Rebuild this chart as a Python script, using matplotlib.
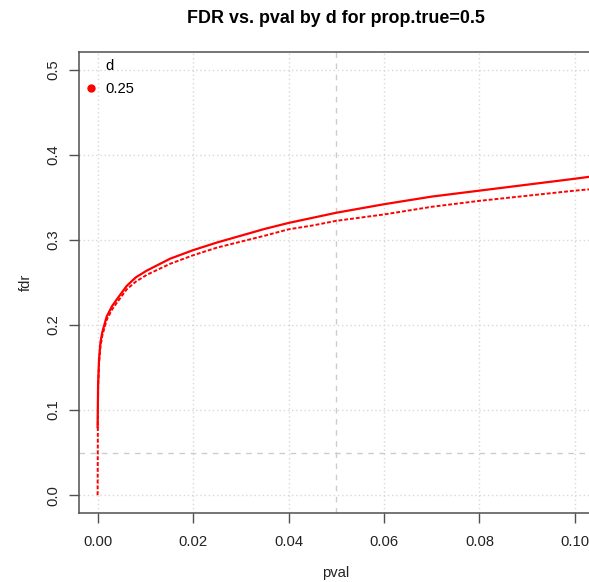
import numpy as np
import matplotlib
matplotlib.use('Agg')
import matplotlib.pyplot as plt
from matplotlib.lines import Line2D

# values
pval_solid = [0.0, 0.0001, 0.0003, 0.0006, 0.0010, 0.0019, 0.0030, 0.0040, 0.0061, 0.0080,
              0.0103, 0.0152, 0.0200, 0.0250, 0.0300, 0.0350, 0.0400, 0.0450, 0.0500,
              0.0600, 0.0700, 0.0800, 0.0900, 0.1000, 0.1040]
fdr_solid = [0.080, 0.130, 0.160, 0.180, 0.192, 0.210, 0.222, 0.230, 0.246, 0.256,
             0.264, 0.278, 0.288, 0.297, 0.305, 0.313, 0.320, 0.326, 0.332,
             0.342, 0.351, 0.358, 0.365, 0.372, 0.375]

pval_dotted = [0.0, 0.00005, 0.0001, 0.0003, 0.0006, 0.0010, 0.0019, 0.0030, 0.0040, 0.0061,
               0.0080, 0.0103, 0.0152, 0.0200, 0.0250, 0.0300, 0.0350, 0.0400, 0.0450,
               0.0500, 0.0600, 0.0700, 0.0800, 0.0900, 0.1000, 0.1040]
fdr_dotted = [0.000, 0.080, 0.125, 0.155, 0.175, 0.188, 0.206, 0.218, 0.226, 0.242,
              0.251, 0.259, 0.272, 0.282, 0.291, 0.298, 0.305, 0.3125, 0.317,
              0.3225, 0.330, 0.339, 0.346, 0.352, 0.358, 0.360]

d_value = '0.25'
x_ticks = [0.00, 0.02, 0.04, 0.06, 0.08, 0.10]
y_ticks = [0.0, 0.1, 0.2, 0.3, 0.4, 0.5]
cutoff = 0.05

plt.rcParams['font.family'] = ['Liberation Sans', 'DejaVu Sans']
plt.rcParams['font.size'] = 10.6

fig = plt.figure(figsize=(5.89, 5.82), dpi=100)
ax = fig.add_axes([79 / 589, 69 / 582, 514 / 589, 461 / 582])

ax.set_xlim(-0.0039, 0.1038)
ax.set_ylim(-0.021, 0.521)
ax.set_xticks(x_ticks)
ax.set_xticklabels(['%.2f' % v for v in x_ticks])
ax.set_yticks(y_ticks)
ax.set_yticklabels(['%.1f' % v for v in y_ticks], rotation=90, va='center')

ax.grid(True, color='#d8d8d8', linestyle=(0, (1, 2)), linewidth=1)
ax.axvline(cutoff, color='#cccccc', linestyle=(0, (4, 4)), linewidth=1)
ax.axhline(cutoff, color='#cccccc', linestyle=(0, (4, 4)), linewidth=1)

ax.plot(pval_solid, fdr_solid, color='red', linewidth=1.6)
ax.plot(pval_dotted, fdr_dotted, color='red', linewidth=1.4, linestyle=(0, (2, 1)))

for s in ax.spines.values():
    s.set_color('#505050')
    s.set_linewidth(1.1)
ax.tick_params(direction='out', length=7.2, width=1, color='#505050', labelcolor='#222222')
ax.tick_params(axis='x', pad=9)
ax.tick_params(axis='y', pad=6)

ax.set_xlabel('pval', labelpad=12, color='#222222')
ax.set_ylabel('fdr', labelpad=10, color='#222222')
ax.set_title('FDR vs. pval by d for prop.true=0.5', fontweight='bold', fontsize=12.9, pad=21)

handles = [Line2D([], [], linestyle='none'),
           Line2D([], [], marker='o', color='red', linestyle='none', markersize=5)]
ax.legend(handles, ['d', d_value], loc='upper left', frameon=False,
          handlelength=0.6, handletextpad=0.7, labelspacing=0.6,
          borderaxespad=0.3, borderpad=0.2)

fig.savefig('out.png', dpi=100)
